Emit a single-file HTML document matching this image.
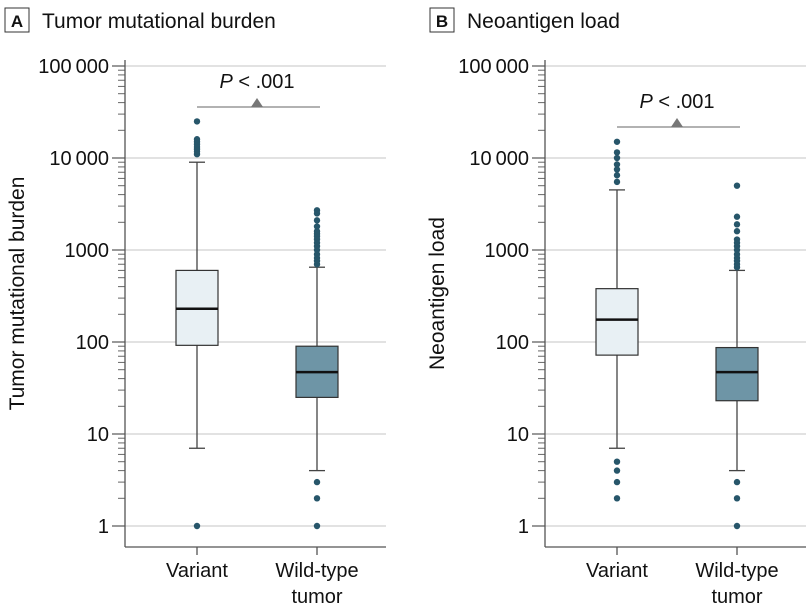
<!DOCTYPE html>
<html><head><meta charset="utf-8"><style>
body{margin:0;background:#fff;}
svg text{font-family:"Liberation Sans",sans-serif;fill:#111;}
</style></head><body>
<svg id="chart" width="810" height="611" xmlns="http://www.w3.org/2000/svg"></svg>
<script>
const categories = ["Variant", "Wild-type tumor"];
const tickValues = [1, 10, 100, 1000, 10000, 100000];
const tickLabels = ["1", "10", "100", "1000", "10\u2009000", "100\u2009000"];
// panel A: Tumor mutational burden [lowWhisker, q1, median, q3, highWhisker]
const tmbStats = [[7, 92, 230, 600, 9000], [4, 25, 47, 90, 650]];
const tmbOutliers = [[1, 11000, 11800, 12500, 13200, 14000, 15000, 16000, 25000],
  [1, 2, 3, 700, 760, 820, 900, 1000, 1100, 1200, 1300, 1400, 1500, 1600, 1800, 2100, 2500, 2700]];
// panel B: Neoantigen load
const neoStats = [[7, 72, 175, 380, 4500], [4, 23, 47, 87, 600]];
const neoOutliers = [[2, 3, 4, 5, 5500, 6500, 7500, 8500, 10000, 11500, 15000],
  [1, 2, 3, 650, 700, 760, 820, 900, 1000, 1100, 1200, 1300, 1600, 1900, 2300, 5000]];
const pText = "< .001";

const svg = document.getElementById('chart');
const NS = "http://www.w3.org/2000/svg";
function mk(tag, attrs, parent){const e=document.createElementNS(NS,tag);for(const k in attrs)e.setAttribute(k,attrs[k]);(parent||svg).appendChild(e);return e;}
const y = v => 526 - Math.log10(v) * 92;

function panel(opts){
  const g = mk('g', {});
  
  
  const ax = opts.ax, right = opts.right, bottom = 547;
  // title
  const box = mk('rect', {x: opts.tx, y: 8, width: 24, height: 24, fill: '#fff', stroke: '#333', 'stroke-width': 1}, g);
  
  
  const lt = mk('text', {x: opts.tx + 12, y: 27, 'text-anchor': 'middle', 'font-size': 17, 'font-weight': 'bold'}, g);
  lt.textContent = opts.letter;
  
  
  const tt = mk('text', {x: opts.tx + 37, y: 28, 'font-size': 21}, g);
  tt.textContent = opts.title;
  
  
  // gridlines and ticks
  tickValues.forEach((v, i) => {
    const gl = mk('line', {x1: ax, x2: right, y1: y(v), y2: y(v), stroke: '#d9d9d9', 'stroke-width': 1.5}, g);
    
    
    mk('line', {x1: ax - 13, x2: ax, y1: y(v), y2: y(v), stroke: '#555', 'stroke-width': 1.2}, g);
    const t = mk('text', {x: ax - 16, y: y(v) + 7, 'text-anchor': 'end', 'font-size': 20}, g);
    t.textContent = tickLabels[i];
    
    
    if (i < tickValues.length - 1) for (let m = 2; m <= 9; m++)
      mk('line', {x1: ax - 7, x2: ax, y1: y(v * m), y2: y(v * m), stroke: '#666', 'stroke-width': 1}, g);
  });
  mk('line', {x1: ax, x2: ax, y1: 60, y2: bottom, stroke: '#555', 'stroke-width': 1.3}, g);
  mk('line', {x1: ax, x2: right, y1: bottom, y2: bottom, stroke: '#555', 'stroke-width': 1.3}, g);
  const yt = mk('text', {x: 0, y: 0, 'text-anchor': 'middle', 'font-size': 21, transform: `translate(${opts.ytx},${(60+bottom)/2-10}) rotate(-90)`}, g);
  yt.textContent = opts.ytitle;
  
  
  const xc = i => ax + 72 + i * 120;
  categories.forEach((c, i) => {
    const cx = xc(i);
    mk('line', {x1: cx, x2: cx, y1: bottom, y2: bottom + 8, stroke: '#555', 'stroke-width': 1.3}, g);
    const words = i === 0 ? [c] : ["Wild-type", "tumor"];
    words.forEach((w, k) => {
      const t = mk('text', {x: cx, y: 577 + k * 26, 'text-anchor': 'middle', 'font-size': 20}, g);
      t.textContent = w;
      
      
    });
    const s = opts.stats[i];
    const bg = mk('g', {}, g);
    
    
    mk('line', {x1: cx, x2: cx, y1: y(s[0]), y2: y(s[4]), stroke: '#444', 'stroke-width': 1.3}, bg);
    mk('line', {x1: cx - 8, x2: cx + 8, y1: y(s[0]), y2: y(s[0]), stroke: '#444', 'stroke-width': 1.3}, bg);
    mk('line', {x1: cx - 8, x2: cx + 8, y1: y(s[4]), y2: y(s[4]), stroke: '#444', 'stroke-width': 1.3}, bg);
    mk('rect', {x: cx - 21, y: y(s[3]), width: 42, height: y(s[1]) - y(s[3]), fill: i === 0 ? '#e8f0f4' : '#6e95a6', stroke: '#333', 'stroke-width': 1.2}, bg);
    mk('line', {x1: cx - 21, x2: cx + 21, y1: y(s[2]), y2: y(s[2]), stroke: '#111', 'stroke-width': 2.5}, bg);
    opts.out[i].forEach(v => {
      const d = mk('circle', {cx: cx, cy: y(v), r: 3.2, fill: '#27566a'}, bg);
      
      
    });
  });
  const px = (xc(0) + xc(1)) / 2;
  mk('line', {x1: xc(0), x2: xc(1) + 3, y1: opts.py, y2: opts.py, stroke: '#999', 'stroke-width': 1.5}, g);
  mk('polygon', {points: `${px-6},${opts.py} ${px+6},${opts.py} ${px},${opts.py-9}`, fill: '#777'}, g);
  const pt = mk('text', {x: px, y: opts.py - 19, 'text-anchor': 'middle', 'font-size': 20}, g);
  pt.innerHTML = '<tspan font-style="italic">P</tspan> ' + pText;
  
  
}
panel({name: 'panel-a-tumor-mutational-burden', letter: 'A', title: 'Tumor mutational burden', tx: 5, ax: 125, right: 386, ytx: 24, ytitle: 'Tumor mutational burden', stats: tmbStats, out: tmbOutliers, py: 107});
panel({name: 'panel-b-neoantigen-load', letter: 'B', title: 'Neoantigen load', tx: 430, ax: 545, right: 806, ytx: 444, ytitle: 'Neoantigen load', stats: neoStats, out: neoOutliers, py: 127});
</script>
</body></html>
